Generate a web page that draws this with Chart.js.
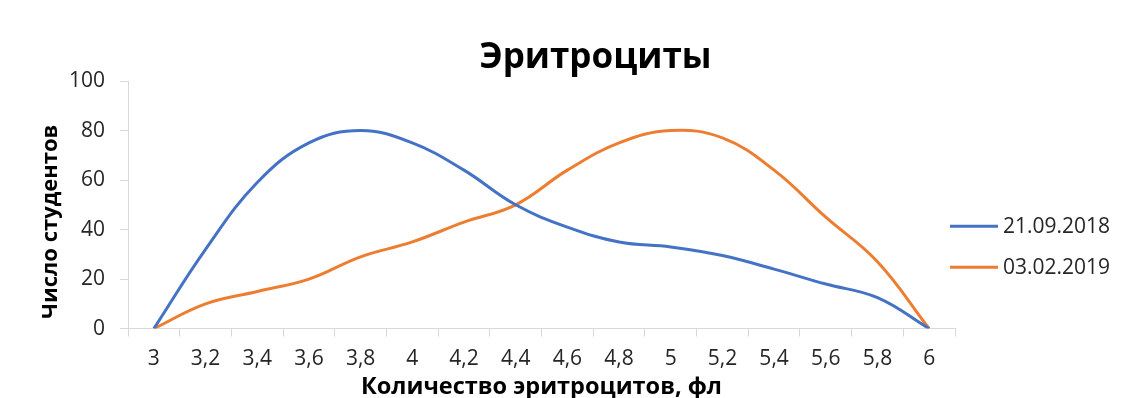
<!DOCTYPE html>
<html>
<head>
<meta charset="utf-8">
<script src="https://cdn.jsdelivr.net/npm/chart.js@4/dist/chart.umd.min.js"></script>
<style>
  html, body { margin: 0; padding: 0; background: #fff; }
  #wrap { width: 1125px; height: 398px; }
</style>
</head>
<body>
<div id="wrap"><canvas id="c" width="1125" height="398"></canvas></div>
<script>
// Categories (cell volume bins) and student counts per date
const categories = ['3', '3,2', '3,4', '3,6', '3,8', '4', '4,2', '4,4', '4,6', '4,8', '5', '5,2', '5,4', '5,6', '5,8', '6'];
const counts2018 = [0, 32, 59, 75, 80, 75, 64, 50, 41, 35, 33, 29.5, 24, 18, 12.5, 0];
const counts2019 = [0, 10, 15, 20, 29, 35, 43, 50, 64, 75, 80, 77, 64, 45, 27, 0];
const seriesNames = ['21.09.2018', '03.02.2019'];
const yTicks = [0, 20, 40, 60, 80, 100];

const chartTitle = 'Эритроциты';
const xTitle = 'Количество эритроцитов, фл';
const yTitle = 'Число студентов';

const FONT = "'Open Sans', 'Noto Sans', sans-serif";
const axisGray = '#d9d9d9';
const textColor = '#262626';

// Heading, vertical axis caption and the series key, laid out around the plot area
const decorPlugin = {
  id: 'decor',
  afterDraw(chart) {
    const ctx = chart.ctx;
    const area = chart.chartArea;
    const midY = (area.top + area.bottom) / 2;
    ctx.save();

    // heading
    ctx.font = `bold 35px ${FONT}`;
    ctx.fillStyle = '#000';
    ctx.textAlign = 'center';
    ctx.textBaseline = 'alphabetic';
    ctx.fillText(chartTitle, (area.left + area.right) / 2 + 54, 68);

    // vertical axis caption
    ctx.save();
    ctx.translate(area.left - 77, midY + 17);
    ctx.rotate(-Math.PI / 2);
    ctx.font = `bold 22px ${FONT}`;
    ctx.textAlign = 'center';
    ctx.textBaseline = 'middle';
    ctx.fillText(yTitle, 0, 0);
    ctx.restore();

    // series key
    ctx.font = `21px ${FONT}`;
    ctx.textAlign = 'left';
    ctx.textBaseline = 'middle';
    chart.data.datasets.forEach((ds, i) => {
      const y = midY + 21.5 + i * 41;
      const x0 = area.right - 5;
      ctx.strokeStyle = ds.borderColor;
      ctx.lineWidth = 3;
      ctx.beginPath();
      ctx.moveTo(x0, y);
      ctx.lineTo(x0 + 48, y);
      ctx.stroke();
      ctx.fillStyle = textColor;
      ctx.fillText(ds.label, x0 + 53, y + 1);
    });

    ctx.restore();
  }
};

new Chart(document.getElementById('c'), {
  type: 'line',
  data: {
    labels: categories,
    datasets: [
      {
        label: seriesNames[0],
        data: counts2018,
        borderColor: '#4472C4',
        backgroundColor: '#4472C4',
        borderWidth: 3,
        pointRadius: 0,
        tension: 0.4,
        fill: false
      },
      {
        label: seriesNames[1],
        data: counts2019,
        borderColor: '#ED7D31',
        backgroundColor: '#ED7D31',
        borderWidth: 3,
        pointRadius: 0,
        tension: 0.4,
        fill: false
      }
    ]
  },
  options: {
    responsive: false,
    animation: false,
    layout: { padding: { top: 81, right: 170, left: 54, bottom: -3 } },
    plugins: {
      title: { display: false },
      tooltip: { enabled: false },
      legend: { display: false }
    },
    scales: {
      x: {
        type: 'category',
        offset: true,
        grid: { offset: true, drawOnChartArea: false, drawTicks: true, tickLength: 8, color: axisGray },
        border: { color: axisGray, width: 1 },
        ticks: { color: textColor, padding: 10, maxRotation: 0, autoSkip: false, font: { family: FONT, size: 21 } },
        title: { display: true, text: xTitle, color: '#000', padding: { top: -9, bottom: 0 }, font: { family: FONT, size: 23.5, weight: 'bold' } }
      },
      y: {
        min: 0,
        max: 100,
        afterBuildTicks(scale) { scale.ticks = yTicks.map(v => ({ value: v })); },
        grid: { drawOnChartArea: false, drawTicks: true, tickLength: 8, color: axisGray },
        border: { color: axisGray, width: 1 },
        ticks: { color: textColor, padding: 15, font: { family: FONT, size: 21 } }
      }
    }
  },
  plugins: [decorPlugin]
});
</script>
</body>
</html>
